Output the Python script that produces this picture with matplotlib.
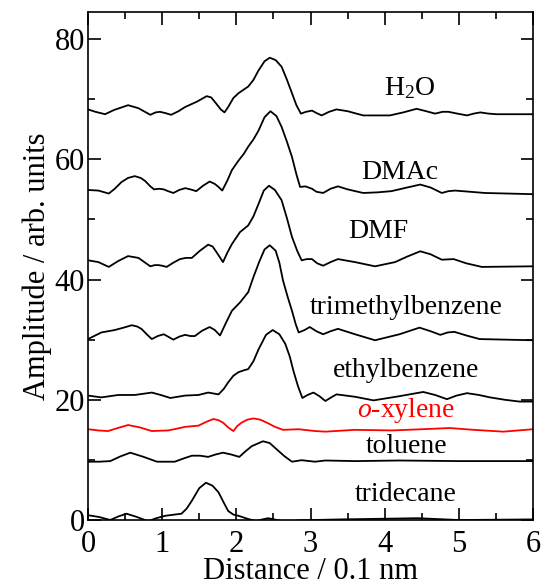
import numpy as np
import matplotlib.pyplot as plt

TICKSIZE = 22
LABELSIZE = 20

plt.rcParams['font.family'] = ['Liberation Serif', 'DejaVu Serif']
plt.rcParams['font.size'] = TICKSIZE
plt.rcParams['mathtext.fontset'] = 'custom'
plt.rcParams['mathtext.rm'] = 'Liberation Serif'
plt.rcParams['mathtext.it'] = 'Liberation Serif:italic'

# values (distance in 0.1 nm, offset amplitude)
h2o_x = [0.0, 0.1, 0.23, 0.35, 0.54, 0.68, 0.84, 0.91, 0.97, 1.04, 1.12, 1.22, 1.31, 1.47, 1.60, 1.66, 1.72, 1.79, 1.84, 1.89,
         1.96, 2.03, 2.1, 2.16, 2.23, 2.30, 2.38, 2.45, 2.53, 2.61, 2.68, 2.75, 2.81, 2.87, 2.94, 3.02, 3.08, 3.15, 3.25, 3.35,
         3.5, 3.71, 4.07, 4.25, 4.43, 4.56, 4.68, 4.78, 4.86, 4.98, 5.11, 5.2, 5.29, 5.4, 5.51, 6.0]
h2o_y = [68.3, 67.9, 67.5, 68.2, 69.0, 68.5, 67.4, 67.8, 67.9, 67.7, 67.4, 68.0, 68.7, 69.6, 70.5, 70.3, 69.4, 68.3, 67.8, 68.7,
         70.2, 71.0, 71.6, 72.1, 73.2, 74.8, 76.3, 76.9, 76.5, 75.4, 73.3, 71.0, 69.0, 67.6, 67.9, 68.1, 67.7, 67.3, 67.9, 68.3,
         68.0, 67.3, 67.3, 67.8, 68.4, 68.0, 67.6, 67.9, 67.9, 67.6, 67.3, 67.6, 67.8, 67.6, 67.5, 67.5]

dmac_x = [0.0, 0.14, 0.28, 0.36, 0.45, 0.54, 0.63, 0.71, 0.77, 0.84, 0.89, 0.96, 1.02, 1.08, 1.15, 1.23, 1.31, 1.38, 1.46, 1.55,
          1.64, 1.71, 1.76, 1.81, 1.88, 1.94, 2.03, 2.1, 2.16, 2.23, 2.30, 2.38, 2.46, 2.54, 2.61, 2.68, 2.75, 2.81, 2.86, 2.93,
          3.02, 3.08, 3.17, 3.27, 3.37, 3.5, 3.71, 3.9, 4.09, 4.3, 4.48, 4.62, 4.77, 4.86, 4.95, 5.15, 5.35, 6.0]
dmac_y = [54.9, 54.8, 54.3, 55.1, 56.2, 56.9, 57.2, 56.9, 56.4, 55.5, 55.0, 55.1, 55.0, 54.7, 54.4, 54.9, 55.2, 55.0, 54.7, 55.6,
          56.3, 55.9, 55.4, 54.8, 56.5, 58.2, 59.8, 60.9, 62.1, 63.3, 64.8, 67.0, 68.0, 67.2, 65.4, 63.0, 60.4, 57.5, 55.4, 55.5,
          55.1, 54.6, 54.4, 55.1, 55.5, 55.0, 54.4, 54.5, 54.7, 55.3, 55.8, 55.3, 54.4, 54.7, 54.8, 54.6, 54.4, 54.2]

dmf_x = [0.0, 0.14, 0.28, 0.41, 0.54, 0.68, 0.76, 0.84, 0.90, 0.95, 1.0, 1.06, 1.15, 1.24, 1.32, 1.40, 1.51, 1.62, 1.68, 1.73,
         1.82, 1.88, 1.94, 2.05, 2.16, 2.23, 2.30, 2.37, 2.44, 2.52, 2.61, 2.68, 2.75, 2.82, 2.88, 2.95, 3.02, 3.09, 3.17, 3.27,
         3.37, 3.6, 3.87, 4.14, 4.3, 4.48, 4.62, 4.77, 4.93, 5.1, 5.31, 6.0]
dmf_y = [43.2, 42.9, 42.1, 43.1, 43.9, 43.6, 42.9, 42.2, 42.4, 42.4, 42.3, 42.1, 42.8, 43.4, 43.6, 43.6, 44.8, 45.8, 45.5, 44.6,
         42.9, 44.5, 45.9, 47.9, 49.0, 50.5, 52.6, 54.8, 55.6, 54.9, 53.2, 50.3, 47.1, 44.8, 43.2, 43.4, 43.4, 42.7, 42.3, 42.9,
         43.4, 42.9, 42.2, 42.9, 43.8, 44.7, 44.2, 43.3, 43.4, 42.7, 42.1, 42.2]

tmb_x = [0.0, 0.18, 0.36, 0.48, 0.59, 0.66, 0.72, 0.80, 0.86, 0.94, 1.02, 1.08, 1.15, 1.23, 1.31, 1.38, 1.44, 1.54, 1.64, 1.71,
         1.78, 1.86, 1.94, 2.05, 2.16, 2.23, 2.31, 2.38, 2.45, 2.53, 2.58, 2.63, 2.69, 2.75, 2.80, 2.84, 2.92, 2.99, 3.08, 3.17,
         3.27, 3.37, 3.6, 3.87, 4.2, 4.47, 4.62, 4.75, 4.85, 4.94, 5.1, 5.28, 6.0]
tmb_y = [30.1, 31.2, 31.6, 32.0, 32.4, 32.2, 31.8, 30.8, 30.1, 30.6, 30.9, 30.5, 30.0, 30.5, 30.8, 30.6, 30.6, 31.5, 32.1, 31.6,
         30.7, 32.8, 34.8, 36.2, 37.9, 40.4, 43.0, 45.0, 45.7, 44.8, 42.8, 39.8, 37.2, 34.8, 32.6, 31.2, 31.6, 32.1, 31.4, 30.9,
         31.4, 31.8, 30.9, 29.9, 30.9, 32.0, 31.4, 30.8, 31.2, 31.3, 30.7, 30.1, 29.9]

eb_x = [0.0, 0.18, 0.41, 0.63, 0.86, 0.98, 1.11, 1.31, 1.49, 1.62, 1.76, 1.83, 1.89, 1.96, 2.03, 2.1, 2.16, 2.23, 2.30, 2.40,
        2.49, 2.58, 2.66, 2.72, 2.77, 2.83, 2.89, 2.96, 3.04, 3.12, 3.20, 3.28, 3.35, 3.6, 3.85, 4.2, 4.52, 4.68, 4.84, 4.97,
        5.11, 5.27, 5.42, 5.62, 5.82, 6.0]
eb_y = [20.7, 20.4, 20.8, 20.8, 21.2, 20.8, 20.3, 20.7, 20.8, 21.2, 20.9, 21.8, 22.9, 24.0, 24.6, 24.9, 25.1, 26.4, 28.4, 30.8,
        31.6, 30.9, 29.3, 27.2, 24.8, 22.3, 20.3, 20.8, 21.2, 20.6, 19.8, 20.4, 20.9, 20.5, 19.9, 20.6, 21.3, 20.8, 20.1, 20.7,
        21.1, 20.8, 20.4, 20.0, 19.7, 19.7]

oxy_x = [0.0, 0.14, 0.27, 0.40, 0.54, 0.70, 0.86, 1.08, 1.20, 1.31, 1.49, 1.59, 1.69, 1.76, 1.82, 1.89, 1.96, 2.01, 2.07, 2.15,
         2.23, 2.32, 2.41, 2.52, 2.63, 2.84, 3.06, 3.20, 3.60, 4.10, 4.50, 4.88, 5.2, 5.6, 6.0]
oxy_y = [15.1, 14.9, 14.8, 15.3, 15.8, 15.4, 14.8, 14.9, 15.2, 15.5, 15.7, 16.3, 16.8, 16.6, 16.2, 15.4, 14.8, 15.6, 16.2, 16.7,
         16.9, 16.7, 16.2, 15.5, 15.0, 15.1, 14.8, 14.7, 15.0, 14.9, 15.1, 15.3, 15.0, 14.7, 15.1]

tol_x = [0.0, 0.15, 0.30, 0.44, 0.57, 0.75, 0.93, 1.17, 1.28, 1.40, 1.51, 1.62, 1.72, 1.82, 1.93, 2.04, 2.12, 2.21, 2.36, 2.45,
         2.54, 2.65, 2.75, 2.88, 3.06, 3.20, 3.60, 4.2, 5.0, 6.0]
tol_y = [9.7, 9.7, 9.8, 10.6, 11.2, 10.5, 9.7, 9.7, 10.2, 10.7, 10.7, 10.5, 10.9, 11.2, 10.9, 10.5, 11.4, 12.3, 13.1, 12.8,
         11.8, 10.6, 9.7, 9.95, 9.7, 9.9, 9.8, 9.9, 9.8, 9.8]

tri_x = [0.0, 0.15, 0.30, 0.41, 0.52, 0.66, 0.81, 0.92, 1.04, 1.26, 1.33, 1.40, 1.50, 1.59, 1.68, 1.76, 1.83, 1.89, 1.96, 2.03,
         2.15, 2.27, 2.35, 2.43, 2.55, 2.66, 2.84, 3.4, 4.45, 5.0, 6.0]
tri_y = [0.8, 0.5, 0.0, 0.6, 1.05, 0.5, -0.2, 0.3, 0.7, 1.05, 1.9, 3.2, 5.3, 6.2, 5.7, 4.6, 2.9, 1.5, 0.9, 0.7,
         0.2, -0.2, 0.1, 0.3, 0.0, -0.3, -0.05, 0.1, 0.3, 0.0, 0.1]

series = [
    (h2o_x, h2o_y, 'black'),
    (dmac_x, dmac_y, 'black'),
    (dmf_x, dmf_y, 'black'),
    (tmb_x, tmb_y, 'black'),
    (eb_x, eb_y, 'black'),
    (oxy_x, oxy_y, 'red'),
    (tol_x, tol_y, 'black'),
    (tri_x, tri_y, 'black'),
]

labels = ['H$_2$O', 'DMAc', 'DMF', 'trimethylbenzene', 'ethylbenzene', '$\\mathit{o}$-xylene', 'toluene', 'tridecane']
label_x = [4.34, 4.2, 3.91, 4.29, 4.29, 4.29, 4.29, 4.29]
label_y = [71.8, 57.8, 48.0, 35.3, 24.8, 18.2, 12.2, 4.3]
label_col = ['black'] * 5 + ['red'] + ['black'] * 2

fig = plt.figure(figsize=(5.41, 5.86), dpi=100)
ax = fig.add_axes([0.1627, 0.1126, 0.8225, 0.8669])

for xs, ys, c in series:
    ax.plot(xs, ys, color=c, lw=1.3)

for t, lx, ly, c in zip(labels, label_x, label_y, label_col):
    ax.text(lx, ly, t, color=c, ha='center', va='center', fontsize=LABELSIZE)

ax.set_xlim(0, 6)
ax.set_ylim(0, 84.5)
ax.set_xticks(np.arange(0, 7, 1))
ax.set_xticks(np.arange(0, 6.01, 0.5), minor=True)
ax.set_yticks(np.arange(0, 81, 20))
ax.set_yticks(np.arange(0, 81, 10), minor=True)
ax.tick_params(which='both', direction='in', top=True, right=True, width=1.2)
ax.tick_params(which='major', length=9, labelsize=TICKSIZE)
ax.tick_params(axis='x', which='major', pad=7)
ax.tick_params(axis='y', which='major', pad=2)
ax.tick_params(which='minor', length=5)
for s in ax.spines.values():
    s.set_linewidth(1.2)

ax.set_xlabel('Distance / 0.1 nm', fontsize=TICKSIZE, labelpad=-1)
ax.set_ylabel('Amplitude / arb. units', fontsize=TICKSIZE, labelpad=2)

fig.savefig('out.png', dpi=100)
